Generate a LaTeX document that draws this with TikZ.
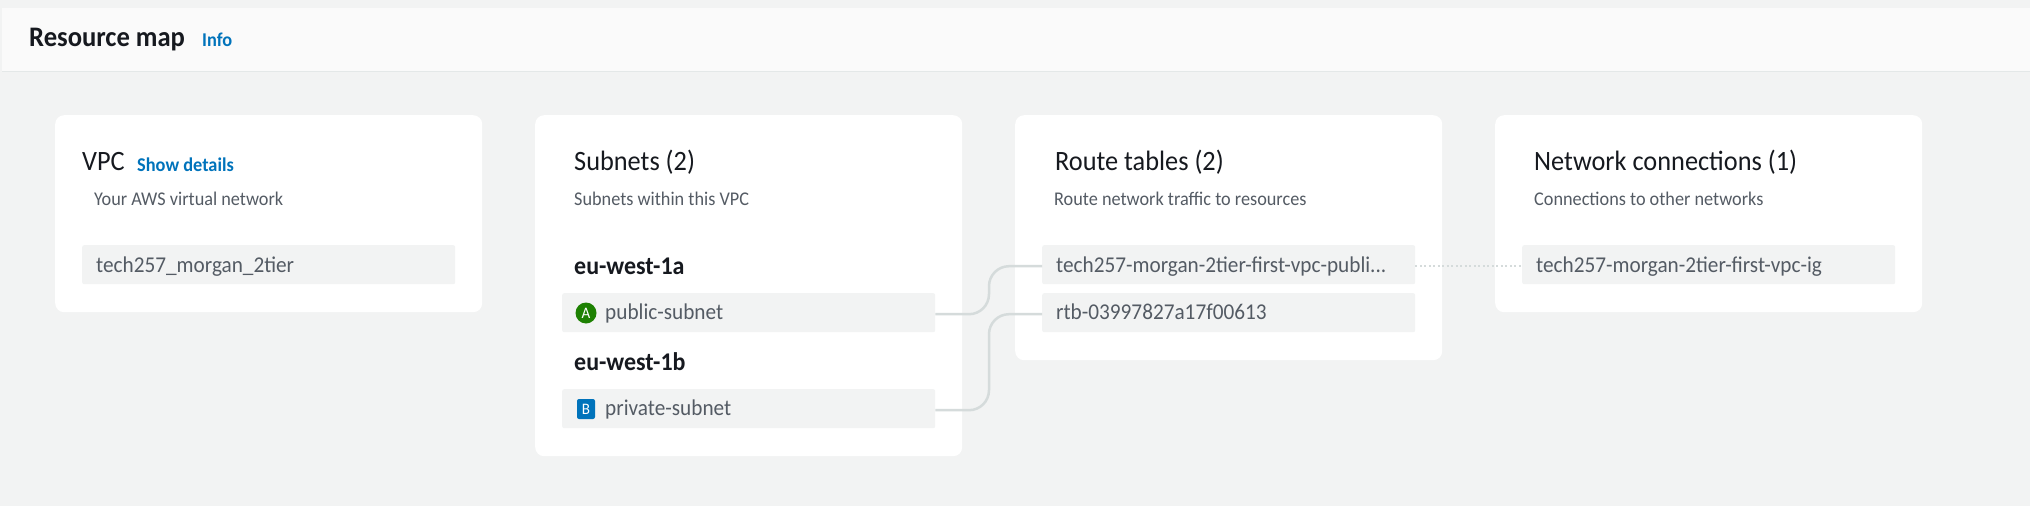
\documentclass[tikz,border=0pt]{standalone}
\usepackage{fontspec}
\setmainfont[FakeStretch=0.94]{Carlito}
\definecolor{pagegray}{HTML}{F2F3F3}
\definecolor{headgray}{HTML}{FAFAFA}
\definecolor{headline}{HTML}{E4E8E8}
\definecolor{ink}{HTML}{16191F}
\definecolor{subink}{HTML}{545B64}
\definecolor{linkblue}{HTML}{0073BB}
\definecolor{wire}{HTML}{D5DBDB}
\definecolor{azgreen}{HTML}{1D8102}
\tikzset{
  card/.style={fill=white,rounded corners=9pt,anchor=north west,inner sep=0pt},
  itembox/.style={fill=pagegray,rounded corners=2pt,anchor=north west,inner sep=0pt,minimum width=373pt,minimum height=39pt},
  txt/.style={anchor=base west,inner sep=0pt,text=#1},
  title/.style={txt=ink,font=\fontsize{28}{28}\selectfont},
  zone/.style={txt=ink,font=\fontsize{25.5}{26}\selectfont\bfseries},
  caption/.style={txt=subink,font=\fontsize{19.4}{20}\selectfont},
  label/.style={txt=subink,font=\fontsize{22.6}{23}\selectfont},
  more/.style={txt=linkblue,font=\fontsize{19.5}{20}\selectfont\bfseries},
  wireline/.style={draw=wire,line width=2.5pt,rounded corners=20pt},
  badge/.style={inner sep=0pt,text=white,font=\fontsize{16}{16}\selectfont},
}
\begin{document}
\begin{tikzpicture}[x=1pt,y=-1pt]
\fill [pagegray] (0,0) rectangle (2030,506) ;
\useasboundingbox (0,0) rectangle (2030,506) ;
% header
\fill [headgray] (2,8) rectangle (2030,71) ;
\draw [headline,line width=1pt] (2,71) -- (2030,71) ;
\node [txt=ink,font=\fontsize{28.3}{28}\selectfont\bfseries] (maptitle) at (29,46) {Resource map} ;
\node [more] (mapinfo) at (202,46) {Info} ;
% cards
\node [card,minimum width=427pt,minimum height=197pt] (vpccard) at (55,115) {} ;
\node [card,minimum width=427pt,minimum height=341pt] (subcard) at (535,115) {} ;
\node [card,minimum width=427pt,minimum height=245pt] (rtbcard) at (1015,115) {} ;
\node [card,minimum width=427pt,minimum height=197pt] (netcard) at (1495,115) {} ;
% vpc
\node [title] (vpctitle) at (82,170) {VPC} ;
\node [more] (vpcmore) at (137,171) {Show details} ;
\node [caption] (vpcsub) at (94,205) {Your AWS virtual network} ;
\node [itembox] (vpcitem) at (82,245) {} ;
\node [label] (vpcname) at (96,272) {tech257\_morgan\_2tier} ;
% subnets
\node [title] (subtitle) at (574,170) {Subnets (2)} ;
\node [caption] (subsub) at (574,205) {Subnets within this VPC} ;
\node [zone] (zonea) at (574,274) {eu-west-1a} ;
\node [itembox] (pubitem) at (562,293) {} ;
\node [badge,circle,fill=azgreen,minimum size=21pt] (bada) at (586,313) {A} ;
\node [label] (pubtext) at (605,319) {public-subnet} ;
\node [zone] (zoneb) at (574,370) {eu-west-1b} ;
\node [itembox] (privitem) at (562,389) {} ;
\node [badge,rounded corners=2pt,fill=linkblue,minimum width=18pt,minimum height=20pt] (badb) at (586,409) {B} ;
\node [label] (privtext) at (605,415) {private-subnet} ;
% route tables
\node [title] (rtbtitle) at (1055,170) {Route tables (2)} ;
\node [caption] (rtbsub) at (1054,205) {Route network traffic to resources} ;
\node [itembox] (rtbone) at (1042,245) {} ;
\node [label] (rtbonetext) at (1056,272) {tech257-morgan-2tier-first-vpc-publi...} ;
\node [itembox] (rtbtwo) at (1042,293) {} ;
\node [label] (rtbtwotext) at (1056,319) {rtb-03997827a17f00613} ;
% connections
\node [title] (nettitle) at (1534,170) {Network connections (1)} ;
\node [caption] (netsub) at (1534,205) {Connections to other networks} ;
\node [itembox] (netitem) at (1522,245) {} ;
\node [label] (netname) at (1536,272) {tech257-morgan-2tier-first-vpc-ig} ;
% wires
\coordinate (pubout) at ([yshift=-1.5pt]pubitem.east) ;
\coordinate (privout) at ([yshift=-1.5pt]privitem.east) ;
\coordinate (rtbonein) at ([yshift=-1.5pt]rtbone.west) ;
\coordinate (rtbtwoin) at ([yshift=-1.5pt]rtbtwo.west) ;
\coordinate (rtboneout) at ([yshift=-1.5pt]rtbone.east) ;
\coordinate (netin) at ([yshift=-1.5pt]netitem.west) ;
\coordinate (wiremid) at (989,0) ;
\draw [wireline] (pubout) -- (wiremid |- pubout) -- (wiremid |- rtbonein) -- (rtbonein) ;
\draw [wireline] (privout) -- (wiremid |- privout) -- (wiremid |- rtbtwoin) -- (rtbtwoin) ;
\draw [wire,line width=2pt,dash pattern=on 2pt off 2.5pt] (rtboneout) -- (netin) ;
\end{tikzpicture}
\end{document}
